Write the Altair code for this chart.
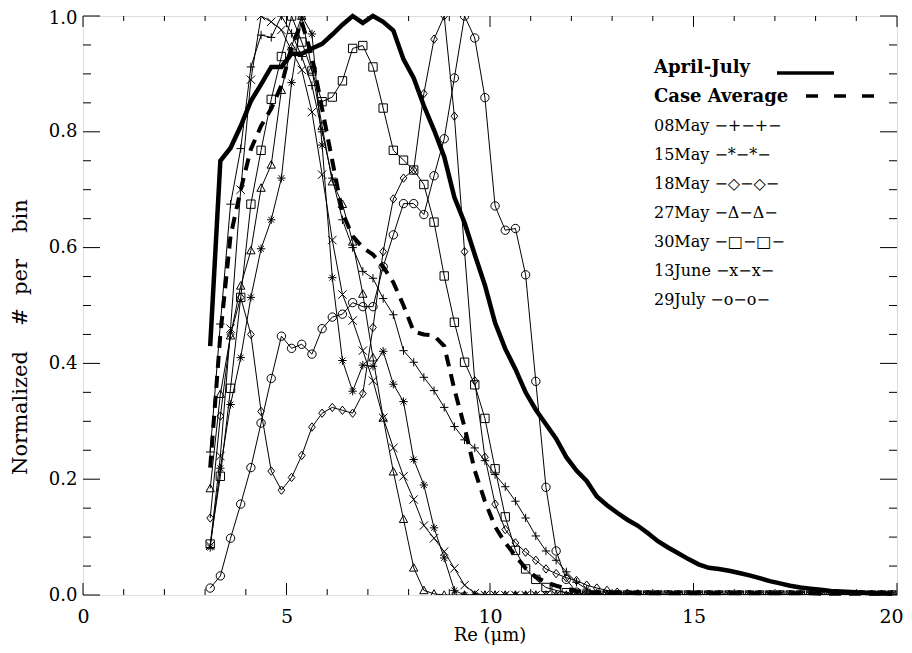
import altair as alt
import pandas as pd

# ---------------- data ----------------
RE = [3.125, 3.375, 3.625, 3.875, 4.125, 4.375, 4.625, 4.875, 5.125, 5.375,
      5.625, 5.875, 6.125, 6.375, 6.625, 6.875, 7.125, 7.375, 7.625, 7.875,
      8.125, 8.375, 8.625, 8.875, 9.125, 9.375, 9.625, 9.875, 10.125, 10.375,
      10.625, 10.875, 11.125, 11.375, 11.625, 11.875, 12.125, 12.375, 12.625, 12.875,
      13.125, 13.375, 13.625, 13.875, 14.125, 14.375, 14.625, 14.875, 15.125, 15.375,
      15.625, 15.875, 16.125, 16.375, 16.625, 16.875, 17.125, 17.375, 17.625, 17.875,
      18.125, 18.375, 18.625, 18.875, 19.125, 19.375, 19.625, 19.875]

april_july = [0.43, 0.75, 0.772, 0.81, 0.853, 0.882, 0.912, 0.912, 0.935, 0.935,
              0.944, 0.952, 0.968, 0.985, 1.0, 0.988, 1.0, 0.99, 0.975, 0.925,
              0.893, 0.845, 0.803, 0.757, 0.687, 0.643, 0.588, 0.535, 0.47, 0.425,
              0.39, 0.35, 0.32, 0.295, 0.27, 0.238, 0.215, 0.197, 0.17, 0.155,
              0.142, 0.13, 0.12, 0.107, 0.093, 0.082, 0.072, 0.062, 0.053, 0.047,
              0.045, 0.042, 0.038, 0.034, 0.029, 0.024, 0.02, 0.016, 0.013, 0.011,
              0.009, 0.007, 0.006, 0.005, 0.004, 0.003, 0.003, 0.002]

case_average = [0.22, 0.45, 0.62, 0.70, 0.77, 0.81, 0.84, 0.88, 0.947, 0.99,
                0.93, 0.84, 0.75, 0.66, 0.62, 0.60, 0.588, 0.567, 0.54, 0.50,
                0.455, 0.45, 0.448, 0.43, 0.355, 0.29, 0.215, 0.162, 0.118, 0.09,
                0.068, 0.046, 0.031, 0.022, 0.016, 0.011, 0.007, 0.005, 0.004, 0.004,
                0.004, 0.004, 0.003, 0.003, 0.003, 0.003, 0.003, 0.003, 0.003, 0.003,
                0.003, 0.003, 0.003, 0.003, 0.003, 0.003, 0.003, 0.003, 0.003, 0.003,
                0.002, 0.002, 0.002, 0.002, 0.002, 0.002, 0.002, 0.002]

may08 = [0.247, 0.468, 0.675, 0.771, 0.912, 0.967, 0.963, 1.0, 0.97, 0.93,
         0.88, 0.80, 0.72, 0.648, 0.60, 0.559, 0.547, 0.512, 0.484, 0.422,
         0.402, 0.376, 0.353, 0.324, 0.291, 0.268, 0.254, 0.232, 0.208, 0.187,
         0.162, 0.133, 0.102, 0.076, 0.06, 0.04, 0.022, 0.01, 0.004] + [0.0] * 29

may15 = [0.082, 0.219, 0.329, 0.41, 0.514, 0.598, 0.648, 0.72, 0.885, 1.0,
         0.969, 0.777, 0.548, 0.405, 0.352, 0.397, 0.395, 0.421, 0.364, 0.334,
         0.234, 0.19, 0.116, 0.064, 0.008] + [0.0] * 43

may18 = [0.133, 0.309, 0.45, 0.514, 0.45, 0.317, 0.214, 0.181, 0.203, 0.241,
         0.29, 0.314, 0.324, 0.319, 0.314, 0.348, 0.462, 0.593, 0.684, 0.72,
         0.734, 0.866, 0.96, 1.0, 0.827, 0.593, 0.37, 0.238, 0.157, 0.113,
         0.09, 0.074, 0.06, 0.045, 0.037, 0.03, 0.025, 0.017, 0.012, 0.008,
         0.005, 0.003, 0.002] + [0.0] * 25

may27 = [0.184, 0.347, 0.448, 0.534, 0.595, 0.703, 0.743, 0.872, 0.947, 1.0,
         0.907, 0.81, 0.714, 0.675, 0.61, 0.52, 0.41, 0.306, 0.213, 0.131,
         0.047, 0.008, 0.002] + [0.0] * 45

may30 = [0.088, 0.205, 0.357, 0.514, 0.675, 0.768, 0.856, 0.93, 1.0, 0.955,
         0.905, 0.852, 0.86, 0.888, 0.944, 0.949, 0.912, 0.841, 0.768, 0.751,
         0.734, 0.709, 0.644, 0.551, 0.471, 0.402, 0.363, 0.305, 0.218, 0.135,
         0.077, 0.045, 0.027, 0.013, 0.008, 0.004] + [0.0] * 32

june13 = [0.085, 0.24, 0.46, 0.70, 0.89, 1.0, 0.99, 0.976, 0.94, 0.907,
          0.834, 0.726, 0.613, 0.519, 0.474, 0.422, 0.37, 0.306, 0.254, 0.205,
          0.165, 0.12, 0.098, 0.075, 0.046, 0.017, 0.003] + [0.0] * 41

july29 = [0.012, 0.033, 0.098, 0.157, 0.22, 0.297, 0.374, 0.447, 0.426, 0.433,
          0.416, 0.46, 0.48, 0.485, 0.505, 0.498, 0.498, 0.567, 0.622, 0.676,
          0.676, 0.657, 0.724, 0.788, 0.893, 1.0, 0.962, 0.859, 0.672, 0.63,
          0.633, 0.553, 0.369, 0.186, 0.076, 0.027, 0.005] + [0.0] * 31

case_names = ["08May", "15May", "18May", "27May", "30May", "13June", "29July"]
case_values = [may08, may15, may18, may27, may30, june13, july29]

legend_labels = ["08May \u2212+\u2212+\u2212", "15May \u2212*\u2212*\u2212",
                 "18May \u2212\u25c7\u2212\u25c7\u2212", "27May \u2212\u0394\u2212\u0394\u2212",
                 "30May \u2212\u25a1\u2212\u25a1\u2212", "13June \u2212x\u2212x\u2212",
                 "29July \u2212o\u2212o\u2212"]

y_title_words = ["Normalized", "#", "per", "bin"]
x_title = "Re (\u03bcm)"

x_major = [0, 5, 10, 15, 20]
x_minor = [1, 2, 3, 4, 6, 7, 8, 9, 11, 12, 13, 14, 16, 17, 18, 19]
y_major = [0.0, 0.2, 0.4, 0.6, 0.8, 1.0]
y_minor = [0.05, 0.1, 0.15, 0.25, 0.3, 0.35, 0.45, 0.5, 0.55, 0.65, 0.7, 0.75,
           0.85, 0.9, 0.95]

# ---------------- tables ----------------
rows = []
for name, vals in zip(case_names, case_values):
    for r, v in zip(RE, vals):
        rows.append({"series": name, "re": r, "v": v})
cases = pd.DataFrame(rows)
thick_solid = pd.DataFrame({"re": RE, "v": april_july})
thick_dash = pd.DataFrame({"re": RE, "v": case_average})

W, H = 814, 579
FONT = "DejaVu Serif"

xs = alt.Scale(domain=[0, 20], nice=False, zero=False)
ys = alt.Scale(domain=[0, 1], nice=False, zero=False)

X = alt.X("re:Q", scale=xs,
          axis=alt.Axis(values=x_major, ticks=False, grid=False, domain=False,
                        labelFont=FONT, labelFontSize=19, labelColor="black",
                        labelPadding=12, labelFlush=False, title=None,
                        labelOffset={"condition": {"test": "datum.value === 20", "value": -6},
                                     "value": 0}))
Y = alt.Y("v:Q", scale=ys,
          axis=alt.Axis(values=y_major, format=".1f", ticks=False, grid=False, domain=False,
                        labelFont=FONT, labelFontSize=18, labelColor="black",
                        labelPadding=6, labelFlush=False, title=None,
                        labelOffset={"condition": {"test": "datum.value === 1", "value": 2},
                                     "value": 0}))

shape_paths = [
    "M-1,0L1,0M0,-1L0,1",
    "M-1,0L1,0M0,-1L0,1M-0.7,-0.7L0.7,0.7M-0.7,0.7L0.7,-0.7",
    "M0,-1L0.8,0L0,1L-0.8,0Z",
    "M0,-1L1,0.8L-1,0.8Z",
    "M-1,-1L1,-1L1,1L-1,1Z",
    "M-1,-1L1,1M-1,1L1,-1",
    "circle",
]

thin_lines = alt.Chart(cases).mark_line(color="black", strokeWidth=1, clip=True).encode(
    x=X, y=Y, detail="series:N", order="re:Q")

symbols = alt.Chart(cases).mark_point(filled=False, color="black", strokeWidth=1,
                                      size=70, opacity=1, clip=True).encode(
    x=X, y=Y,
    shape=alt.Shape("series:N", scale=alt.Scale(domain=case_names, range=shape_paths),
                    legend=None))

solid = alt.Chart(thick_solid).mark_line(color="black", strokeWidth=4.5).encode(
    x=X, y=Y, order="re:Q")
dashed = alt.Chart(thick_dash).mark_line(color="black", strokeWidth=4, strokeDash=[12, 8]
                                         ).encode(x=X, y=Y, order="re:Q")

# ---------------- inward ticks on all four sides ----------------
def xticks(vals, y0, y1):
    return alt.Chart(pd.DataFrame({"re": vals})).mark_rule(color="black", strokeWidth=1).encode(
        x=X, y=alt.value(y0), y2=alt.value(y1))

def yticks(vals, x0, x1):
    return alt.Chart(pd.DataFrame({"v": vals})).mark_rule(color="black", strokeWidth=1).encode(
        y=Y, x=alt.value(x0), x2=alt.value(x1))

ticks = [
    xticks(x_major, H, H - 12), xticks(x_minor, H, H - 6),
    xticks(x_major, 0, 11), xticks(x_minor, 0, 5),
    yticks(y_major, 0, 17), yticks(y_minor, 0, 8),
    yticks(y_major, W, W - 17), yticks(y_minor, W, W - 8),
]

# ---------------- axis titles (text) ----------------
titles = [
    alt.Chart(pd.DataFrame({"t": [x_title]})).mark_text(
        font=FONT, fontSize=18, align="center", baseline="alphabetic", color="black"
    ).encode(text="t:N", x=alt.value(W / 2), y=alt.value(H + 46))
]
y_word_centres = [397, 301, 261, 200]
for word, yc in zip(y_title_words, y_word_centres):
    titles.append(
        alt.Chart(pd.DataFrame({"t": [word]})).mark_text(
            font=FONT, fontSize=21, align="center", baseline="alphabetic", angle=270,
            color="black").encode(text="t:N", x=alt.value(-56), y=alt.value(yc)))

# ---------------- legend (text) ----------------
legend_layers = []
LX = 571
legend_layers.append(
    alt.Chart(pd.DataFrame({"t": ["April-July"]})).mark_text(
        font=FONT, fontSize=18, fontWeight="bold", align="left", baseline="alphabetic",
        color="black").encode(text="t:N", x=alt.value(LX), y=alt.value(57)))
legend_layers.append(
    alt.Chart(pd.DataFrame({"t": ["Case Average"]})).mark_text(
        font=FONT, fontSize=18, fontWeight="bold", align="left", baseline="alphabetic",
        color="black").encode(text="t:N", x=alt.value(LX), y=alt.value(86)))
legend_layers.append(
    alt.Chart(pd.DataFrame({"t": ["April-July"]})).mark_rule(color="black", strokeWidth=3.5).encode(
        x=alt.value(694), x2=alt.value(751), y=alt.value(57)))
legend_layers.append(
    alt.Chart(pd.DataFrame({"t": ["Case Average"]})).mark_rule(
        color="black", strokeWidth=3.5, strokeDash=[12, 16]).encode(
        x=alt.value(723), x2=alt.value(791), y=alt.value(80)))
for k, lab in enumerate(legend_labels):
    legend_layers.append(
        alt.Chart(pd.DataFrame({"t": [lab]})).mark_text(
            font=FONT, fontSize=16, align="left", baseline="alphabetic",
            color="black").encode(text="t:N", x=alt.value(LX), y=alt.value(115 + 29 * k)))

chart = alt.layer(thin_lines, symbols, solid, dashed, *ticks, *titles, *legend_layers).properties(
    width=W, height=H,
    autosize=alt.AutoSizeParams(type="none"),
    padding={"left": 75, "top": 8, "right": 7, "bottom": 50},
).configure_view(stroke="black", strokeWidth=1).configure(background="white")

chart.save("out.html", embed_options={"renderer": "svg", "actions": False})
